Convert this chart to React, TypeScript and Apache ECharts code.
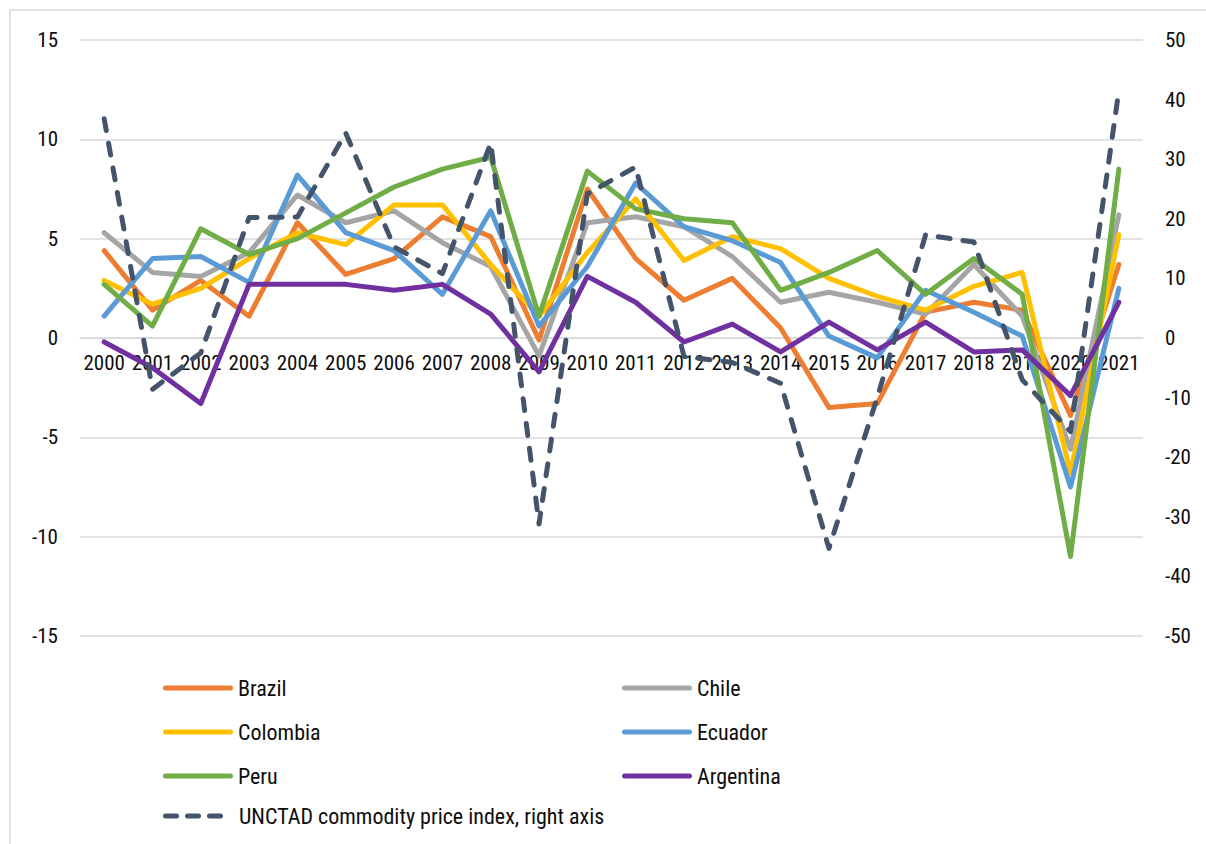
import React, { useEffect, useRef } from "react";
import * as echarts from "echarts";

// Years on the category axis
const years = [
  "2000", "2001", "2002", "2003", "2004", "2005", "2006", "2007", "2008", "2009", "2010",
  "2011", "2012", "2013", "2014", "2015", "2016", "2017", "2018", "2019", "2020", "2021",
];

// Real GDP growth, % (left axis)
const brazil = [4.4, 1.4, 2.9, 1.1, 5.8, 3.2, 4.0, 6.1, 5.1, -0.1, 7.5, 4.0, 1.9, 3.0, 0.5, -3.5, -3.3, 1.3, 1.8, 1.4, -3.9, 3.7];
const chile = [5.3, 3.3, 3.1, 4.3, 7.2, 5.8, 6.4, 4.8, 3.6, -0.9, 5.8, 6.1, 5.6, 4.1, 1.8, 2.3, 1.8, 1.2, 3.7, 1.1, -5.6, 6.2];
const colombia = [2.9, 1.7, 2.5, 4.0, 5.3, 4.7, 6.7, 6.7, 3.7, 1.1, 4.3, 7.0, 3.9, 5.1, 4.5, 3.0, 2.1, 1.4, 2.6, 3.3, -6.8, 5.2];
const ecuador = [1.1, 4.0, 4.1, 2.8, 8.2, 5.3, 4.4, 2.2, 6.4, 0.6, 3.6, 7.8, 5.6, 4.9, 3.8, 0.1, -1.0, 2.4, 1.3, 0.1, -7.5, 2.5];
const peru = [2.7, 0.6, 5.5, 4.2, 5.0, 6.3, 7.6, 8.5, 9.1, 1.1, 8.4, 6.5, 6.0, 5.8, 2.4, 3.3, 4.4, 2.2, 4.0, 2.2, -11.0, 8.5];
const argentina = [-0.2, -1.5, -3.3, 2.7, 2.7, 2.7, 2.4, 2.7, 1.2, -1.7, 3.1, 1.8, -0.2, 0.7, -0.7, 0.8, -0.6, 0.8, -0.7, -0.6, -2.9, 1.8];

// UNCTAD commodity price index, % change (right axis)
const unctad = [36.8, -8.6, -2.5, 20.2, 20.3, 34.4, 15.3, 10.8, 32.7, -31.2, 24.2, 28.7, -3.1, -4.1, -7.6, -35.3, -10.0, 17.3, 16.1, -7.0, -15.7, 41.5];

const FONT = "'Roboto Condensed', 'DejaVu Sans Condensed', 'Liberation Sans', sans-serif";
const TEXT = "#0d0d0d";
const GRID = "#d9d9d9";

const countrySeries = [
  { name: "Brazil", data: brazil, color: "#ED7D31" },
  { name: "Chile", data: chile, color: "#A5A5A5" },
  { name: "Colombia", data: colombia, color: "#FFC000" },
  { name: "Ecuador", data: ecuador, color: "#5B9BD5" },
  { name: "Peru", data: peru, color: "#70AD47" },
  { name: "Argentina", data: argentina, color: "#7030A0" },
];

const UNCTAD_NAME = "UNCTAD commodity price index, right axis";

// Legend keys: a rounded bar for solid lines, three rounded dashes for the index
const SOLID_ICON = "path://M2.5,0 L67.5,0 A2.5,2.5 0 0 1 67.5,5 L2.5,5 A2.5,2.5 0 0 1 2.5,0 Z";
const DASH_ICON =
  "path://M2.5,0 L13.5,0 A2.5,2.5 0 0 1 13.5,5 L2.5,5 A2.5,2.5 0 0 1 2.5,0 Z " +
  "M24.5,0 L35.5,0 A2.5,2.5 0 0 1 35.5,5 L24.5,5 A2.5,2.5 0 0 1 24.5,0 Z " +
  "M46.5,0 L57.5,0 A2.5,2.5 0 0 1 57.5,5 L46.5,5 A2.5,2.5 0 0 1 46.5,0 Z";

export default function App() {
  const ref = useRef<HTMLDivElement>(null);

  useEffect(() => {
    if (!ref.current) return;
    const chart = echarts.init(ref.current, null, { renderer: "svg" });

    const series: any[] = countrySeries.map((s) => ({
      name: s.name,
      type: "line",
      yAxisIndex: 0,
      data: s.data,
      symbol: "none",
      color: s.color,
      lineStyle: { color: s.color, width: 5, cap: "round", join: "round" },
    }));
    series.push({
      name: UNCTAD_NAME,
      type: "line",
      yAxisIndex: 1,
      data: unctad,
      symbol: "none",
      color: "#44546A",
      lineStyle: { color: "#44546A", width: 5, type: [12, 13], cap: "round", join: "round" },
    });

    const legendText = { fontFamily: FONT, fontSize: 22, color: TEXT, lineHeight: 20 };
    const legendCommon = {
      orient: "vertical",
      itemWidth: 70,
      itemHeight: 5,
      itemGap: 23,
      textStyle: legendText,
    };

    chart.setOption({
      animation: false,
      backgroundColor: "#ffffff",
      textStyle: { fontFamily: FONT },
      grid: { left: 80, right: 63, top: 40, bottom: 208, containLabel: false },
      legend: [
        {
          ...legendCommon,
          left: 158,
          top: 672,
          itemGap: 22,
          data: ["Brazil", "Colombia", "Peru"].map((n) => ({ name: n, icon: SOLID_ICON })),
        },
        {
          ...legendCommon,
          left: 617,
          top: 672,
          itemGap: 22,
          data: ["Chile", "Ecuador", "Argentina"].map((n) => ({ name: n, icon: SOLID_ICON })),
        },
        {
          ...legendCommon,
          left: 158,
          top: 800,
          itemWidth: 60,
          textStyle: { ...legendText, padding: [0, 0, 0, 11] },
          data: [{ name: UNCTAD_NAME, icon: DASH_ICON }],
        },
      ],
      xAxis: {
        type: "category",
        data: years,
        boundaryGap: true,
        offset: -298,
        axisLine: { onZero: false, lineStyle: { color: GRID, width: 1.5 } },
        axisTick: { show: false },
        axisLabel: { color: TEXT, fontFamily: FONT, fontSize: 21, margin: 14, interval: 0 },
        splitLine: { show: false },
      },
      yAxis: [
        {
          type: "value",
          min: -15,
          max: 15,
          interval: 5,
          axisLine: { show: false },
          axisTick: { show: false },
          axisLabel: { color: TEXT, fontFamily: FONT, fontSize: 21, margin: 22 },
          splitLine: { lineStyle: { color: GRID, width: 1.5 } },
        },
        {
          type: "value",
          min: -50,
          max: 50,
          interval: 10,
          position: "right",
          axisLine: { show: false },
          axisTick: { show: false },
          axisLabel: { color: TEXT, fontFamily: FONT, fontSize: 21, margin: 22 },
          splitLine: { show: false },
        },
      ],
      graphic: [
        {
          type: "rect",
          silent: true,
          z: -10,
          shape: { x: 10, y: 10, width: 1300, height: 900 },
          style: { fill: "none", stroke: GRID, lineWidth: 1.5 },
        },
      ],
      series,
    });

    return () => chart.dispose();
  }, []);

  return (
    <div
      ref={ref}
      style={{ position: "fixed", left: 0, top: 0, width: 1206, height: 844, background: "#fff" }}
    />
  );
}
